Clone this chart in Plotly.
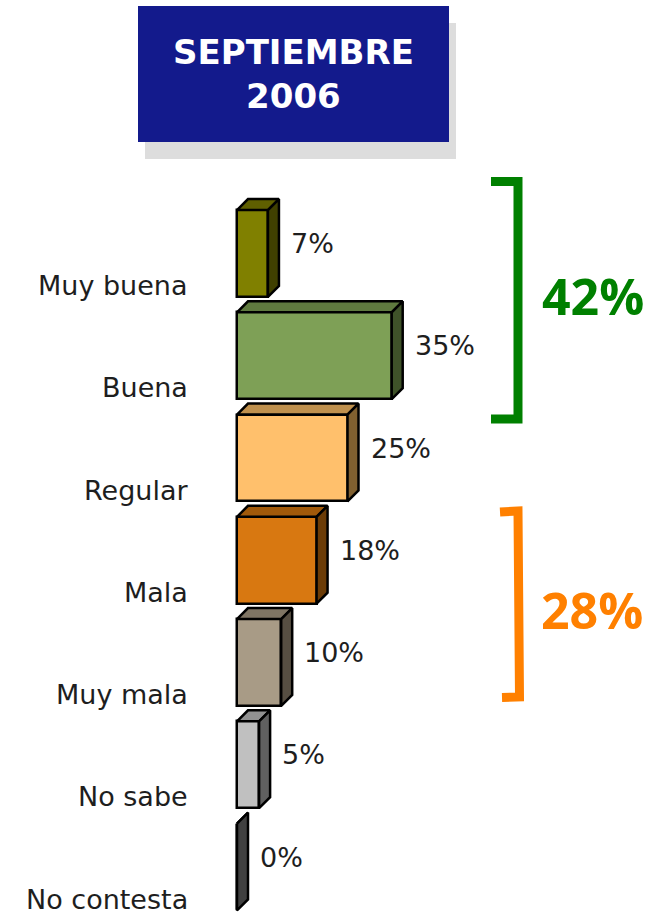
import plotly.graph_objects as go

# ---------------- data ----------------
categories = ["Muy buena", "Buena", "Regular", "Mala", "Muy mala", "No sabe", "No contesta"]
values = [7, 35, 25, 18, 10, 5, 0]
front_colors = ["#808000", "#7EA056", "#FFC06C", "#D87811", "#A89B86", "#C0C0C0", "#404040"]
top_colors = ["#5F5F00", "#5F7A3F", "#C0914E", "#A1590A", "#7F7564", "#919191", "#404040"]
side_colors = ["#404000", "#3F5229", "#806030", "#6C3C07", "#564E42", "#606060", "#404040"]
title_lines = ["SEPTIEMBRE", "2006"]
good_group = ["Muy buena", "Buena"]
bad_group = ["Mala", "Muy mala"]

# ---------------- layout constants ----------------
W, H = 656, 914
PX_PER_PCT = 4.42
X0_PX = 237
ROW0_PX = 253.5
ROW_PX = 102.25
BAR_W = 0.85
DEPTH_PX = 11
dx = DEPTH_PX / PX_PER_PCT
dy = DEPTH_PX / ROW_PX

TXT = "#1E1E1E"
FONT = "DejaVu Sans"


def pxx(x):
    return x / W


def pxy(y):
    return 1 - y / H


fig = go.Figure()
ypos = list(range(len(categories)))

fig.add_trace(go.Bar(
    x=values, y=ypos, orientation="h", width=BAR_W,
    marker=dict(color=front_colors, line=dict(color="black", width=2.5)),
    hoverinfo="skip", showlegend=False,
))

for i, v in enumerate(values):
    yt = i - BAR_W / 2
    yb = i + BAR_W / 2
    # top face
    fig.add_trace(go.Scatter(
        x=[0, v, v + dx, dx, 0], y=[yt, yt, yt - dy, yt - dy, yt],
        mode="lines", fill="toself", fillcolor=top_colors[i],
        line=dict(color="black", width=2.5), hoverinfo="skip", showlegend=False,
    ))
    # side face
    fig.add_trace(go.Scatter(
        x=[v, v + dx, v + dx, v, v], y=[yt, yt - dy, yb - dy, yb, yt],
        mode="lines", fill="toself", fillcolor=side_colors[i],
        line=dict(color="black", width=2.5), hoverinfo="skip", showlegend=False,
    ))

annotations = []
for i, (c, v) in enumerate(zip(categories, values)):
    annotations.append(dict(
        x=0, y=i, xref="x", yref="y", text=c, showarrow=False,
        xanchor="right", yanchor="middle", xshift=-47, yshift=-32,
        font=dict(family=FONT, size=27, color=TXT),
    ))
    annotations.append(dict(
        x=v, y=i, xref="x", yref="y", text=f"{v}%", showarrow=False,
        xanchor="left", yanchor="middle", xshift=21, yshift=10,
        font=dict(family=FONT, size=27, color=TXT),
    ))

good_total = sum(values[categories.index(c)] for c in good_group)
bad_total = sum(values[categories.index(c)] for c in bad_group)

# title
annotations.append(dict(
    x=pxx(293.5), y=pxy(74), xref="paper", yref="paper",
    text="<b>" + "<br>".join(title_lines) + "</b>", showarrow=False,
    xanchor="center", yanchor="middle",
    font=dict(family=FONT, size=34, color="white"),
))
annotations.append(dict(
    x=pxx(593), y=pxy(296), xref="paper", yref="paper",
    text=f"<b>{good_total}%</b>", showarrow=False, xanchor="center", yanchor="middle",
    font=dict(family="Open Sans", size=50, color="#008000"),
))
annotations.append(dict(
    x=pxx(592), y=pxy(610), xref="paper", yref="paper",
    text=f"<b>{bad_total}%</b>", showarrow=False, xanchor="center", yanchor="middle",
    font=dict(family="Open Sans", size=50, color="#FF8000"),
))


def path(points):
    return "M " + " L ".join(f"{pxx(x):.5f},{pxy(y):.5f}" for x, y in points)


shapes = [
    dict(type="rect", xref="paper", yref="paper", x0=pxx(145), x1=pxx(456), y0=pxy(159), y1=pxy(23),
         fillcolor="#DDDDDD", line=dict(width=0), layer="below"),
    dict(type="rect", xref="paper", yref="paper", x0=pxx(138), x1=pxx(449), y0=pxy(142), y1=pxy(6),
         fillcolor="#131A8C", line=dict(width=0), layer="below"),
    dict(type="path", xref="paper", yref="paper",
         path=path([(491, 181.5), (518, 181.5), (518, 419), (491, 419)]),
         line=dict(color="#008000", width=9)),
    dict(type="path", xref="paper", yref="paper",
         path=path([(500, 512), (518, 511), (519.5, 697), (502, 697.5)]),
         line=dict(color="#FF8000", width=9)),
]

fig.update_layout(
    width=W, height=H,
    margin=dict(l=0, r=0, t=0, b=0),
    paper_bgcolor="white", plot_bgcolor="white",
    xaxis=dict(range=[-X0_PX / PX_PER_PCT, (W - X0_PX) / PX_PER_PCT], visible=False, fixedrange=True),
    yaxis=dict(range=[(H - ROW0_PX) / ROW_PX, -ROW0_PX / ROW_PX], visible=False, fixedrange=True),
    annotations=annotations,
    shapes=shapes,
    showlegend=False,
    bargap=0,
)

fig.write_html(
    "out.html",
    config={"displayModeBar": False},
    post_script="document.body.style.margin='0';document.body.style.overflow='hidden';",
)
